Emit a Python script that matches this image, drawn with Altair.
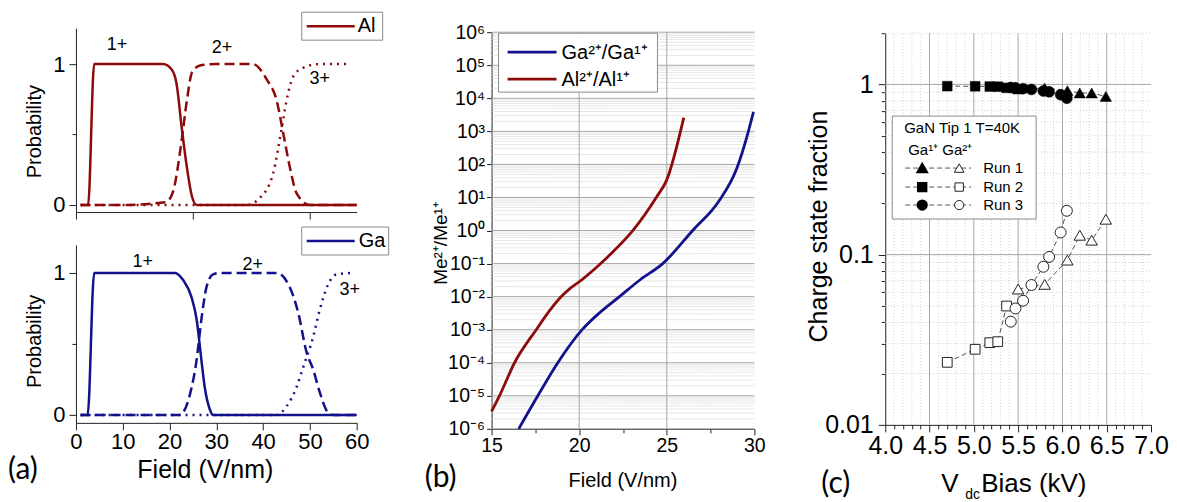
import altair as alt
import pandas as pd

# ---------------- data : panel (a) ----------------
al1_f = [1, 2.6, 3.9, 10, 18.6, 20.5, 21.5, 22.6, 23.7, 24.8, 25.8, 40, 60]
al1_p = [0, 0, 1, 1, 1, 0.96, 0.86, 0.55, 0.27, 0.06, 0, 0, 0]
al2_f = [1, 10, 19.2, 20.7, 22.6, 23.7, 24.8, 26.5, 30, 37.8, 40.8, 42.9, 44.3, 45.7, 47.2, 50, 60]
al2_p = [0, 0, 0.02, 0.09, 0.46, 0.74, 0.94, 0.99, 1, 1, 0.89, 0.74, 0.51, 0.27, 0.08, 0, 0]
al3_f = [1, 36.5, 39.3, 42.1, 44.0, 45.0, 46.4, 48.3, 52, 58]
al3_p = [0, 0, 0.05, 0.22, 0.55, 0.74, 0.91, 0.97, 1, 1]

ga1_f = [1, 2.5, 3.9, 10, 21.2, 22.9, 24.7, 25.8, 26.8, 27.5, 28.6, 29.3, 40, 60]
ga1_p = [0, 0, 1, 1, 1, 0.95, 0.83, 0.67, 0.39, 0.2, 0.04, 0, 0, 0]
ga2_f = [1, 22.2, 24.4, 25.8, 26.8, 27.9, 29.3, 30.7, 42.9, 45.7, 47.5, 49.3, 50.7, 52.1, 53.8, 55, 60]
ga2_p = [0, 0, 0.15, 0.39, 0.67, 0.9, 0.99, 1, 1, 0.9, 0.72, 0.44, 0.32, 0.16, 0.02, 0, 0]
ga3_f = [1, 42.9, 45, 47.2, 48.6, 50.7, 52.1, 53.9, 55.7, 59.2]
ga3_p = [0, 0, 0.06, 0.2, 0.34, 0.55, 0.74, 0.92, 0.99, 1]

state_labels = ["1+", "2+", "3+"]
al_label_f = [8.8, 31.2, 52.1]
al_label_p = [1.135, 1.113, 0.894]
ga_label_f = [14.3, 37.8, 58.5]
ga_label_p = [1.077, 1.056, 0.88]

a_x_ticks = [0, 10, 20, 30, 40, 50, 60]
a_top_x_ticks = [0, 25, 50]
a_y_ticks = [0, 1]
a_y_minor = [0.5]

# ---------------- data : panel (b) ----------------
b_al_f = [15.0, 15.45, 16.31, 17.55, 18.3, 18.9, 19.5, 20.2, 21.12, 22.1, 23.06, 24.4, 25.0, 25.97]
b_al_r = [3.4e-6, 1e-5, 1e-4, 1e-3, 3.7e-3, 9.1e-3, 1.8e-2, 3.4e-2, 8.9e-2, 0.28, 1.0, 10, 34, 2600]
b_ga_f = [16.55, 17.64, 18.78, 20.17, 21.15, 22.3, 23.5, 24.77, 26.48, 27.95, 29.0, 29.66, 29.95]
b_ga_r = [1e-6, 1e-5, 1e-4, 1e-3, 3.2e-3, 1e-2, 3.3e-2, 1e-1, 1.0, 7.4, 76, 1000, 3900]

b_x_ticks = [15, 20, 25, 30]
b_x_minor = [17.5, 22.5, 27.5]
b_x_grid = [20, 25]
b_y_ticks = [1e-6, 1e-5, 1e-4, 1e-3, 1e-2, 1e-1, 1, 1e1, 1e2, 1e3, 1e4, 1e5, 1e6]
b_y_labels = ["10⁻⁶", "10⁻⁵", "10⁻⁴", "10⁻³", "10⁻²", "10⁻¹", "10⁰",
              "10¹", "10²", "10³", "10⁴", "10⁵", "10⁶"]
b_y_minor = [m * d for d in [1e-6, 1e-5, 1e-4, 1e-3, 1e-2, 1e-1, 1, 1e1, 1e2, 1e3, 1e4, 1e5]
             for m in [2, 3, 4, 5, 6, 7, 8, 9]]
b_legend = ["Ga²⁺/Ga¹⁺", "Al²⁺/Al¹⁺"]

# ---------------- data : panel (c) ----------------
run1_v = [5.50, 5.80, 6.056, 6.196, 6.33, 6.49]
run1_g1 = [0.94, 0.95, 0.92, 0.89, 0.89, 0.85]
run1_g2 = [0.0628, 0.0669, 0.0929, 0.130, 0.1216, 0.1615]
run2_v = [4.70, 5.015, 5.18, 5.27, 5.37]
run2_g1 = [0.977, 0.975, 0.972, 0.97, 0.955]
run2_g2 = [0.0233, 0.0278, 0.0304, 0.0308, 0.0499]
run3_v = [5.417, 5.47, 5.556, 5.65, 5.785, 5.85, 5.98, 6.05]
run3_g1 = [0.96, 0.955, 0.945, 0.935, 0.915, 0.905, 0.87, 0.83]
run3_g2 = [0.0404, 0.0483, 0.0536, 0.0663, 0.0849, 0.097, 0.135, 0.181]

c_x_ticks = [4.0, 4.5, 5.0, 5.5, 6.0, 6.5, 7.0]
c_x_grid = [4.5, 5.0, 5.5, 6.0, 6.5]
c_x_minor = [4.1, 4.2, 4.3, 4.4, 4.6, 4.7, 4.8, 4.9, 5.1, 5.2, 5.3, 5.4, 5.6, 5.7, 5.8, 5.9,
             6.1, 6.2, 6.3, 6.4, 6.6, 6.7, 6.8, 6.9]
c_y_ticks = [0.01, 0.1, 1]
c_y_grid = [0.1, 1]
c_y_minor = [0.02, 0.03, 0.04, 0.05, 0.06, 0.07, 0.08, 0.09,
             0.2, 0.3, 0.4, 0.5, 0.6, 0.7, 0.8, 0.9, 2]
c_runs = ["Run 1", "Run 2", "Run 3"]
c_shapes = ["triangle-up", "square", "circle"]

# ---------------- styling ----------------
W, H = 1161, 486
FONT = "Liberation Sans, Arimo, Arial, Helvetica, sans-serif"
RED = "#8e0b0b"
BLUE = "#12128c"
GRID = "#a8a8a8"
MINOR = "#cfcfcf"


def lin(domain, rng):
    return alt.Scale(domain=domain, range=rng, nice=False, zero=False)


def logsc(domain, rng):
    return alt.Scale(type="log", domain=domain, range=rng, nice=False)


SX_A = lambda: lin([0, 60], [68, 349])
SY_A1 = lambda: lin([-0.05, 1.255], [204, 20])
SY_A2 = lambda: lin([-0.056, 1.197], [415, 237])
SX_B = lambda: lin([15, 30], [484, 747])
SY_B = lambda: logsc([1e-6, 1e6], [421, 24])
SX_C = lambda: lin([4, 7], [878, 1144])
SY_C = lambda: logsc([0.01, 2], [417, 25])

ONE = pd.DataFrame({"k": [0]})


def line(xs, ys, sx, sy, color, dash=None, width=2.5, xaxis=None, yaxis=None, interp="monotone"):
    df = pd.DataFrame({"x": xs, "y": ys})
    kw = dict(color=color, strokeWidth=width, interpolate=interp)
    if dash:
        kw["strokeDash"] = dash
    return alt.Chart(df).mark_line(**kw).encode(
        x=alt.X("x:Q", scale=sx, axis=xaxis),
        y=alt.Y("y:Q", scale=sy, axis=yaxis),
    )


def hgrid(vals, xdom, sx, sy, color, dash=None, yaxis=None):
    df = pd.DataFrame({"v": vals})
    kw = dict(color=color, strokeWidth=1)
    if dash:
        kw["strokeDash"] = dash
    return alt.Chart(df).mark_rule(**kw).encode(
        y=alt.Y("v:Q", scale=sy, axis=yaxis),
        x=alt.X(datum=xdom[0], type="quantitative", scale=sx, axis=None),
        x2=alt.X2(datum=xdom[1]),
    )


def vgrid(vals, ydom, sx, sy, color, dash=None, xaxis=None):
    df = pd.DataFrame({"v": vals})
    kw = dict(color=color, strokeWidth=1)
    if dash:
        kw["strokeDash"] = dash
    return alt.Chart(df).mark_rule(**kw).encode(
        x=alt.X("v:Q", scale=sx, axis=xaxis),
        y=alt.Y(datum=ydom[0], type="quantitative", scale=sy, axis=None),
        y2=alt.Y2(datum=ydom[1]),
    )


def txt(s, x, y, size, align="left", baseline="middle", font=FONT):
    return alt.Chart(ONE).mark_text(text=s, align=align, baseline=baseline, fontSize=size,
                                    font=font, color="black").encode(
        x=alt.value(x), y=alt.value(y))


def box(x0, x1, y0, y1):
    return alt.Chart(ONE).mark_rect(fill="white", stroke="#8a8a8a", strokeWidth=1).encode(
        x=alt.value(x0), x2=alt.value(x1), y=alt.value(y0), y2=alt.value(y1))


def seg(x0, x1, y, color, width=2.5, dash=None):
    kw = dict(color=color, strokeWidth=width)
    if dash:
        kw["strokeDash"] = dash
    return alt.Chart(ONE).mark_rule(**kw).encode(
        x=alt.value(x0), x2=alt.value(x1), y=alt.value(y))


def pts(xs, ys, sx, sy, shape, filled, size):
    df = pd.DataFrame({"x": xs, "y": ys})
    if filled:
        m = alt.Chart(df).mark_point(shape=shape, filled=True, fill="black", stroke="black",
                                     strokeWidth=0.5, size=size, opacity=1)
    else:
        m = alt.Chart(df).mark_point(shape=shape, filled=True, fill="white", stroke="#222222",
                                     strokeWidth=1, size=size, opacity=1)
    return m.encode(x=alt.X("x:Q", scale=sx, axis=None), y=alt.Y("y:Q", scale=sy, axis=None))


def ann(labels, xs, ys, sx, sy, size=18):
    df = pd.DataFrame({"t": labels, "x": xs, "y": ys})
    return alt.Chart(df).mark_text(fontSize=size, font=FONT, color="black").encode(
        x=alt.X("x:Q", scale=sx, axis=None), y=alt.Y("y:Q", scale=sy, axis=None), text="t:N")


layers = []

# ---------------- panel (a) top: Al ----------------
ax_top_x = alt.Axis(orient="bottom", offset=-282, values=a_top_x_ticks, labels=False, tickSize=7, title=None)
ax_top_y = alt.Axis(orient="left", offset=-68, values=a_y_ticks, format="d", labelFontSize=22, tickSize=7,
                    labelPadding=4, title="Probability", titleFontSize=20, titleX=-41, titleY=123,
                    titleBaseline="middle", titleAlign="center")
ax_top_y2 = alt.Axis(orient="left", offset=-68, values=a_y_minor, labels=False, tickSize=4,
                     domain=False, title=None)
layers += [
    line(al1_f, al1_p, SX_A(), SY_A1(), RED, None, xaxis=ax_top_x, yaxis=ax_top_y),
    line(al2_f, al2_p, SX_A(), SY_A1(), RED, [10, 5], yaxis=ax_top_y2),
    line(al3_f, al3_p, SX_A(), SY_A1(), RED, [2, 5]),
    ann(state_labels, al_label_f, al_label_p, SX_A(), SY_A1()),
    box(294, 375, 4, 32), seg(299, 347, 18, RED), txt("Al", 350, 18, 20),
]

# ---------------- panel (a) bottom: Ga ----------------
ax_bot_x = alt.Axis(orient="bottom", offset=-71, values=a_x_ticks, labelFontSize=22, tickSize=7,
                    labelPadding=2, title="Field (V/nm)", titleFontSize=25, titleX=197, titleY=47,
                    titleBaseline="middle", titleAlign="center")
ax_bot_y = alt.Axis(orient="left", offset=-68, values=a_y_ticks, format="d", labelFontSize=22, tickSize=7,
                    labelPadding=4, title="Probability", titleFontSize=20, titleX=-41, titleY=333,
                    titleBaseline="middle", titleAlign="center")
ax_bot_y2 = alt.Axis(orient="left", offset=-68, values=a_y_minor, labels=False, tickSize=4,
                     domain=False, title=None)
layers += [
    line(ga1_f, ga1_p, SX_A(), SY_A2(), BLUE, None, xaxis=ax_bot_x, yaxis=ax_bot_y),
    line(ga2_f, ga2_p, SX_A(), SY_A2(), BLUE, [10, 5], yaxis=ax_bot_y2),
    line(ga3_f, ga3_p, SX_A(), SY_A2(), BLUE, [2, 5]),
    ann(state_labels, ga_label_f, ga_label_p, SX_A(), SY_A2()),
    box(294, 381, 219, 247), seg(299, 347, 233, BLUE), txt("Ga", 351, 233, 20),
]

# ---------------- panel (b) ----------------
b_label_expr = "[" + ",".join('"%s"' % s for s in b_y_labels) + "][round(log(datum.value)/LN10)+6]"
ax_b_y = alt.Axis(orient="left", offset=-484, values=b_y_ticks, labelExpr=b_label_expr,
                  labelFontSize=19.5, tickSize=5, labelPadding=2, title="Me²⁺/Me¹⁺",
                  titleFontSize=19, titleX=-51, titleY=235, titleBaseline="middle", titleAlign="center")
ax_b_x = alt.Axis(orient="bottom", offset=-65, values=b_x_ticks, labelFontSize=19.5, tickSize=6,
                  labelPadding=2, title="Field (V/nm)", titleFontSize=20, titleX=615, titleY=52,
                  titleBaseline="middle", titleAlign="center")
ax_b_x2 = alt.Axis(orient="bottom", offset=-65, values=b_x_minor, labels=False, tickSize=4,
                   domain=False, title=None)
layers += [
    hgrid(b_y_minor, [15, 30], SX_B(), SY_B(), MINOR, [1, 1]),
    hgrid(b_y_ticks, [15, 30], SX_B(), SY_B(), GRID, None, yaxis=ax_b_y),
    vgrid(b_x_grid, [1e-6, 1e6], SX_B(), SY_B(), GRID, None),
    line(b_al_f, b_al_r, SX_B(), SY_B(), RED, None, width=2.8, xaxis=ax_b_x),
    line(b_ga_f, b_ga_r, SX_B(), SY_B(), BLUE, None, width=2.8, xaxis=ax_b_x2),
    box(491, 650, 25, 84),
    seg(500, 549, 44, BLUE, 2.8), txt(b_legend[0], 554, 45, 20),
    seg(500, 549, 71, RED, 2.8), txt(b_legend[1], 554, 72, 20),
]

# ---------------- panel (c) ----------------
ax_c_y = alt.Axis(orient="left", offset=-878, values=c_y_ticks, format="~g", labelFontSize=25,
                  tickSize=7, labelPadding=5, title="Charge state fraction", titleFontSize=25,
                  titleX=-67, titleY=218, titleBaseline="middle", titleAlign="center")
ax_c_y2 = alt.Axis(orient="left", offset=-878, values=c_y_minor, labels=False, tickSize=4,
                   domain=False, title=None)
ax_c_x = alt.Axis(orient="bottom", offset=-69, values=c_x_ticks, format=".1f", labelFontSize=25,
                  tickSize=7, labelPadding=2, title=None)
ax_c_x2 = alt.Axis(orient="bottom", offset=-69, values=c_x_minor, labels=False, tickSize=4,
                   domain=False, title=None)
layers += [
    hgrid(c_y_minor, [4, 7], SX_C(), SY_C(), MINOR, [1, 2], yaxis=ax_c_y2),
    vgrid(c_x_minor, [0.01, 2], SX_C(), SY_C(), MINOR, [1, 2], xaxis=ax_c_x2),
    hgrid(c_y_grid, [4, 7], SX_C(), SY_C(), GRID, None, yaxis=ax_c_y),
    vgrid(c_x_grid, [0.01, 2], SX_C(), SY_C(), GRID, None, xaxis=ax_c_x),
]
runs = [(run1_v, run1_g1, run1_g2, c_shapes[0], 130),
        (run2_v, run2_g1, run2_g2, c_shapes[1], 95),
        (run3_v, run3_g1, run3_g2, c_shapes[2], 120)]
for v, g1, g2, shp, sz in runs:
    layers.append(line(v, g1, SX_C(), SY_C(), "#555555", [5, 3], width=1, interp="linear"))
    layers.append(line(v, g2, SX_C(), SY_C(), "#555555", [5, 3], width=1, interp="linear"))
for v, g1, g2, shp, sz in runs:
    layers.append(pts(v, g2, SX_C(), SY_C(), shp, False, sz))
    layers.append(pts(v, g1, SX_C(), SY_C(), shp, True, sz))

# legend (c)
layers += [box(885, 1029, 108, 211),
           txt("GaN Tip 1 T=40K", 897, 120, 15),
           txt("Ga¹⁺ Ga²⁺", 901, 142, 15)]
for i, ry in enumerate([160, 179, 197]):
    shp = c_shapes[i]
    sz = [95, 70, 85][i]
    layers.append(seg(898, 964, ry, "#555555", 1, [5, 3]))
    layers.append(alt.Chart(ONE).mark_point(shape=shp, filled=True, fill="black", stroke="black",
                                            size=sz, opacity=1).encode(x=alt.value(915), y=alt.value(ry)))
    layers.append(alt.Chart(ONE).mark_point(shape=shp, filled=True, fill="white", stroke="#222222",
                                            strokeWidth=1, size=sz, opacity=1).encode(
        x=alt.value(952), y=alt.value(ry)))
    layers.append(txt(c_runs[i], 976, ry, 15))

# x title (c) with subscript
layers += [
    txt("V", 934, 484, 26, baseline="alphabetic"),
    txt("dc", 958, 491, 14, baseline="alphabetic"),
    txt("Bias (kV)", 974, 484, 26, baseline="alphabetic"),
]

# panel letters
layers += [
    txt("(a)", 0, 462, 30, font="Lato"),
    txt("(b)", 417, 470, 30, font="Lato"),
    txt("(c)", 814, 476, 30, font="Lato"),
]

chart = alt.layer(*layers).resolve_scale(
    x="independent", y="independent"
).properties(width=W, height=H, padding=0).configure_view(stroke=None).configure_axis(
    labelFont=FONT, titleFont=FONT, labelColor="black", titleColor="black",
    domainColor="#222222", tickColor="#222222", titleFontWeight="normal", grid=False,
    labelFlush=False, labelOverlap=False,
)

chart.save("out.html", embed_options={"renderer": "svg", "actions": False})
